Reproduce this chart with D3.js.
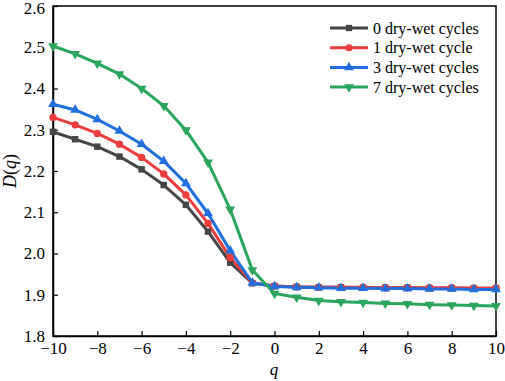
<!DOCTYPE html>
<html><head><meta charset="utf-8">
<script src="https://cdn.jsdelivr.net/npm/d3@7/dist/d3.min.js"></script>
<style>body{margin:0;background:#fff;} svg{display:block;}</style>
</head><body>
<svg id="c" width="505" height="381"></svg>
<script>
const qValues = [-10,-9,-8,-7,-6,-5,-4,-3,-2,-1,0,1,2,3,4,5,6,7,8,9,10];
const seriesNames = ["0 dry-wet cycles","1 dry-wet cycle","3 dry-wet cycles","7 dry-wet cycles"];
const cyc0 = [2.295,2.277,2.259,2.235,2.204,2.166,2.118,2.053,1.978,1.928,1.921,1.919,1.918,1.918,1.917,1.917,1.917,1.916,1.916,1.916,1.916];
const cyc1 = [2.330,2.312,2.291,2.265,2.233,2.193,2.142,2.073,1.990,1.929,1.921,1.919,1.918,1.918,1.918,1.917,1.917,1.917,1.917,1.916,1.916];
const cyc3 = [2.362,2.348,2.325,2.297,2.265,2.224,2.170,2.097,2.007,1.929,1.920,1.918,1.917,1.916,1.916,1.915,1.915,1.914,1.914,1.913,1.913];
const cyc7 = [2.503,2.484,2.461,2.435,2.400,2.358,2.299,2.221,2.107,1.960,1.903,1.894,1.886,1.883,1.881,1.879,1.878,1.876,1.875,1.874,1.873];
const xTicks = [-10,-8,-6,-4,-2,0,2,4,6,8,10];
const yTicks = [1.8,1.9,2.0,2.1,2.2,2.3,2.4,2.5,2.6];
const colors = ["#454545","#ee3b3b","#1f6fde","#2aa55c"];
const symbols = [d3.symbolSquare, d3.symbolCircle, d3.symbolTriangle, d3.symbolTriangle];

const svg = d3.select("#c");
const m = {l:53, r:496, t:6, b:336};
const x = d3.scaleLinear().domain([-10,10]).range([m.l, m.r]);
const y = d3.scaleLinear().domain([1.8,2.6]).range([m.b, m.t]);
const font = "'Liberation Serif','Times New Roman',serif";

svg.append("rect").attr("x",m.l).attr("y",m.t).attr("width",m.r-m.l).attr("height",m.b-m.t)
  .attr("fill","none").attr("stroke","#000").attr("stroke-width",1.5);

const xa = svg.append("g").attr("transform",`translate(0,${m.b})`)
  .call(d3.axisBottom(x).tickValues(xTicks).tickSizeInner(-5).tickSizeOuter(0).tickPadding(6)
    .tickFormat(d => d<0 ? "\u2212"+Math.abs(d) : d));
const ya = svg.append("g").attr("transform",`translate(${m.l},0)`)
  .call(d3.axisLeft(y).tickValues(yTicks).tickSizeInner(-5).tickSizeOuter(0).tickPadding(8)
    .tickFormat(d3.format(".1f")));
[xa,ya].forEach(a=>{
  a.attr("font-family",font).attr("font-size",17);
  a.select(".domain").attr("stroke","#000").attr("stroke-width",1.5);
  a.selectAll(".tick line").attr("stroke","#000").attr("stroke-width",1.2);
  a.selectAll(".tick text").attr("fill","#000");
});
ya.selectAll(".tick text").filter(d=>d===2.6).attr("dy","0.45em");

const all = [cyc0,cyc1,cyc3,cyc7];
const line = d3.line().x((d,i)=>x(qValues[i])).y(d=>y(d));
all.forEach((s,k)=>{
  svg.append("path").datum(s).attr("d",line).attr("fill","none")
    .attr("stroke",colors[k]).attr("stroke-width",3).attr("stroke-linejoin","round");
});
all.forEach((s,k)=>{
  const sym = d3.symbol().type(symbols[k]).size(42);
  svg.append("g").selectAll("path").data(s).join("path")
    .attr("d",sym)
    .attr("transform",(d,i)=>`translate(${x(qValues[i])},${y(d)})${k===3?" rotate(180)":""}`)
    .attr("fill",colors[k]);
});

const lg = svg.append("g");
seriesNames.forEach((n,k)=>{
  const yy = 28 + k*19.7;
  lg.append("line").attr("x1",330).attr("x2",368).attr("y1",yy).attr("y2",yy)
    .attr("stroke",colors[k]).attr("stroke-width",3);
  lg.append("path").attr("d",d3.symbol().type(symbols[k]).size(40))
    .attr("transform",`translate(349,${yy})${k===3?" rotate(180)":""}`).attr("fill",colors[k]);
  lg.append("text").attr("x",373).attr("y",yy+5.5).text(n)
    .attr("font-family",font).attr("font-size",16).attr("fill","#000");
});

svg.append("text").attr("x",274).attr("y",375).attr("text-anchor","middle")
  .attr("font-family",font).attr("font-size",17).attr("font-style","italic").text("q");
svg.append("text").attr("transform","translate(16,171) rotate(-90)").attr("text-anchor","middle")
  .attr("font-family",font).attr("font-size",18)
  .html("<tspan font-style='italic'>D</tspan>(<tspan font-style='italic'>q</tspan>)");
</script>
</body></html>
